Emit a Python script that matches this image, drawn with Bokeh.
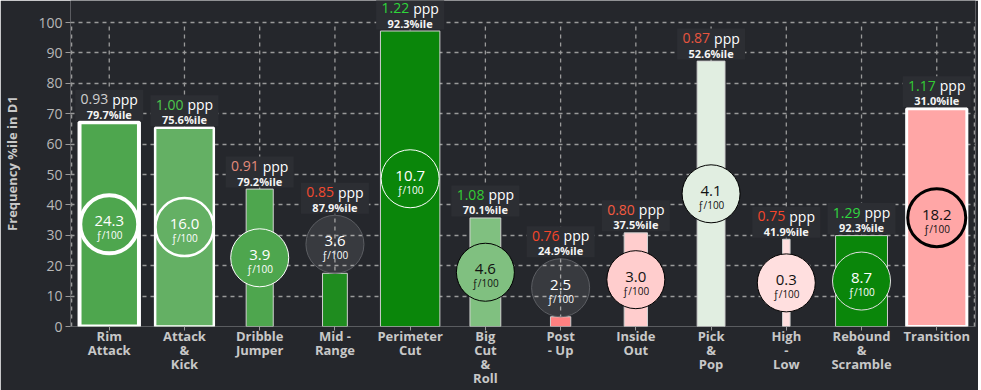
from bokeh.plotting import figure
from bokeh.models import ColumnDataSource, LabelSet, FixedTicker, FactorRange, Range1d
from bokeh.embed import file_html
from bokeh.resources import INLINE
from bokeh.core.properties import value

# ---------------- data ----------------
plays = ["Rim\nAttack", "Attack\n&\nKick", "Dribble\nJumper", "Mid -\nRange", "Perimeter\nCut",
         "Big\nCut\n&\nRoll", "Post\n- Up", "Inside\nOut", "Pick\n&\nPop", "High\n-\nLow",
         "Rebound\n&\nScramble", "Transition"]
freq_pctile = [67.2, 65.4, 45.2, 17.5, 97.2, 35.7, 3.2, 30.8, 87.3, 28.7, 29.9, 71.6]
ppp = [0.93, 1.00, 0.91, 0.85, 1.22, 1.08, 0.76, 0.80, 0.87, 0.75, 1.29, 1.17]
ppp_pctile = [79.7, 75.6, 79.2, 87.9, 92.3, 70.1, 24.9, 37.5, 52.6, 41.9, 92.3, 31.0]
per100 = [24.3, 16.0, 3.9, 3.6, 10.7, 4.6, 2.5, 3.0, 4.1, 0.3, 8.7, 18.2]
bar_width = [0.79, 0.78, 0.36, 0.33, 0.79, 0.41, 0.27, 0.31, 0.37, 0.10, 0.69, 0.80]
y_ticks = list(range(0, 101, 10))

# ---------------- styles ----------------
BG = "#25272c"
BOX = "#2c2e33"
GRID = "#9a9a9a"
FONT = "Open Sans"
bar_fill = ["#4ea64e", "#64b064", "#4ea64e", "#1f8c1f", "#0a860a", "#80c080",
            "#ff8080", "#ffcdcd", "#e1eee1", "#ffdfdf", "#0a860a", "#ffa6a6"]
bar_line = ["#ffffff", "#ffffff", "#d0d0d0", "#d0d0d0", "#d0d0d0", "#d0d0d0",
            "#d0d0d0", "#d0d0d0", "#d0d0d0", "#d0d0d0", "#d0d0d0", "#ffffff"]
bar_lw = [4, 2.5, 1, 1, 1, 1, 1, 1, 1, 1, 1, 3]
circ_line = ["#ffffff", "#ffffff", "#ffffff", "#5c5e63", "#ffffff", "#000000",
             "#5c5e63", "#000000", "#000000", "#000000", "#e0e0e0", "#000000"]
circ_lw = [4, 2.5, 1, 1, 1, 1, 1, 1, 1, 1, 1, 3]
circ_text = ["#ffffff", "#ffffff", "#ffffff", "#ffffff", "#ffffff", "#111111",
             "#ffffff", "#111111", "#111111", "#111111", "#ffffff", "#111111"]
ppp_color = ["#cfcfcf", "#4cc84c", "#e38b7b", "#f24a30", "#2ed63a", "#33cc33",
             "#f5452a", "#f55a40", "#e8553f", "#f5462b", "#30d840", "#33cc33"]

Y_TOP = 107.24         # headroom above 100 for the labels of tall bars
CIRCLE_D = 58          # circle diameter in screen px
PX_PER_UNIT = 3.04     # frame px per y unit
r_u = CIRCLE_D / 2 / PX_PER_UNIT

# circle inside bar if it fits, otherwise resting on top of it
cy = [h / 2 if h / 2 >= r_u else h + r_u for h in freq_pctile]
outside = [h / 2 < r_u for h in freq_pctile]
circ_fill = ["#ffffff" if o else f for o, f in zip(outside, bar_fill)]
circ_alpha = [0.09 if o else 1.0 for o in outside]
label_base = [max(h, c + r_u) if o else h for h, c, o in zip(freq_pctile, cy, outside)]
box_y = [b + 17 / PX_PER_UNIT for b in label_base]

src = ColumnDataSource(dict(
    play=plays, h=freq_pctile, w=bar_width, fill=bar_fill, line=bar_line, lw=bar_lw,
    cy=cy, cfill=circ_fill, calpha=circ_alpha, cline=circ_line, clw=circ_lw, ctext=circ_text,
    base=label_base, box_y=box_y,
    ppp_txt=[f"{v:.2f}" for v in ppp], ppp_col=ppp_color,
    pct_txt=[f"{v:.1f}%ile" for v in ppp_pctile],
    val_txt=[f"{v:.1f}" for v in per100],
    unit_txt=["\u0192/100"] * len(plays),
    ppp_word=["ppp"] * len(plays),
    g0=[0] * len(plays), g1=[100] * len(plays),
))

x_range = FactorRange(factors=plays, range_padding=0.015, range_padding_units="absolute")
p = figure(x_range=x_range, y_range=Range1d(0, Y_TOP), width=978, height=390,
           output_backend="svg", toolbar_location=None,
           background_fill_color=BG, border_fill_color=BG,
           min_border_left=66, min_border_right=3, min_border_top=0, min_border_bottom=58)

p.outline_line_color = None
p.xgrid.grid_line_color = None
p.ygrid.ticker = FixedTicker(ticks=y_ticks)
p.ygrid.grid_line_color = GRID
p.ygrid.grid_line_dash = "4 4"
p.ygrid.grid_line_width = 1.3

p.yaxis.ticker = FixedTicker(ticks=y_ticks)
p.yaxis.axis_line_color = None
p.yaxis.major_tick_line_color = GRID
p.yaxis.major_tick_out = 5
p.yaxis.major_tick_in = 0
p.yaxis.minor_tick_line_color = None
p.yaxis.major_label_text_color = "#b8b8b8"
p.yaxis.major_label_text_font = FONT
p.yaxis.major_label_text_font_size = "14px"
p.yaxis.major_label_standoff = 3
p.yaxis.axis_label = "Frequency %ile in D1"
p.yaxis.axis_label_text_font = FONT
p.yaxis.axis_label_text_font_style = "bold"
p.yaxis.axis_label_text_font_size = "13px"
p.yaxis.axis_label_text_color = "#c8c8c8"
p.yaxis.axis_label_standoff = 14

p.xaxis.axis_line_color = None
p.xaxis.major_tick_line_color = GRID
p.xaxis.major_tick_out = 4
p.xaxis.major_tick_in = 0
p.xaxis.major_label_text_color = "#c8c8c8"
p.xaxis.major_label_text_font = FONT
p.xaxis.major_label_text_font_style = "bold"
p.xaxis.major_label_text_font_size = "13px"
p.xaxis.major_label_text_line_height = 0.79
p.xaxis.major_label_standoff = -4

dash = dict(line_color=GRID, line_dash="4 4", line_width=1.3, level="underlay")
# vertical grid lines at each category, from 0 to 100
p.segment(x0="play", x1="play", y0="g0", y1="g1", source=src, **dash)
# left / right borders of the 0..100 box
p.segment(x0=[0, len(plays)], x1=[0, len(plays)], y0=[0, 0], y1=[100, 100], **dash)

p.vbar(x="play", top="h", width="w", source=src, fill_color="fill",
       line_color="line", line_width="lw")
p.scatter(x="play", y="cy", size=CIRCLE_D, marker="circle", source=src,
          fill_color="cfill", fill_alpha="calpha", line_color="cline", line_width="clw")

# background boxes behind the ppp labels
p.rect(x="play", y="box_y", width=68, height=31, width_units="screen", height_units="screen",
       source=src, fill_color=BOX, line_color=None)

common = dict(x="play", source=src, text_baseline="middle", text_font=value(FONT))
p.add_layout(LabelSet(y="base", y_offset=23, x_offset=-1, text="ppp_txt", text_align="right",
                      text_color="ppp_col", text_font_size="14px", **common))
p.add_layout(LabelSet(y="base", y_offset=23, x_offset=3, text="ppp_word", text_align="left",
                      text_color="#ffffff", text_font_size="14px", **common))
p.add_layout(LabelSet(y="base", y_offset=8, text="pct_txt", text_align="center",
                      text_color="#f4f4f4", text_font_size="11px", text_font_style="bold", **common))
p.add_layout(LabelSet(y="cy", y_offset=3, text="val_txt", text_align="center",
                      text_color="ctext", text_font_size="15px", **common))
p.add_layout(LabelSet(y="cy", y_offset=-11, text="unit_txt", text_align="center",
                      text_color="ctext", text_font_size="10px", **common))

open("out.html", "w").write(file_html(p, INLINE))
